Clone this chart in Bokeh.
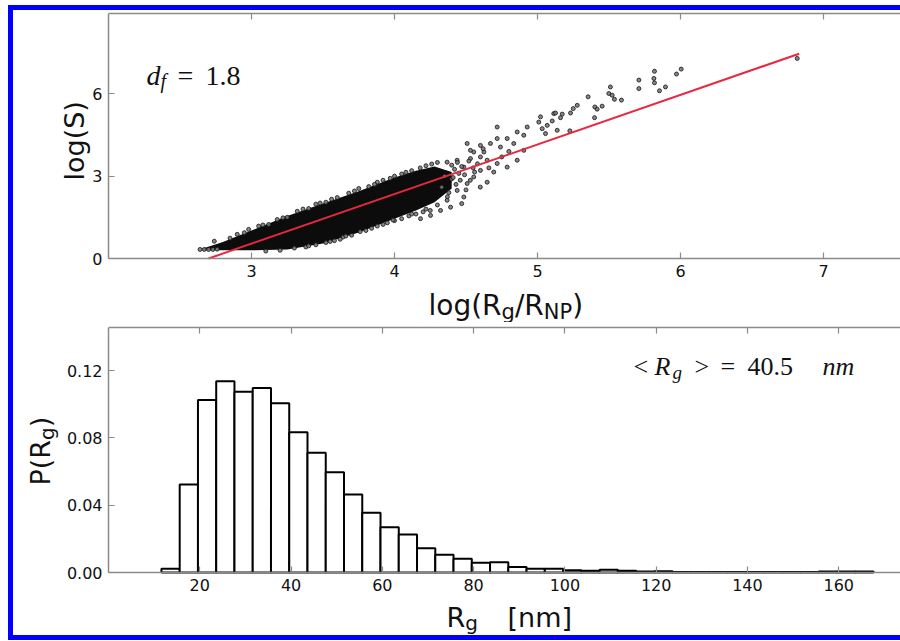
import math
from bokeh.plotting import figure
from bokeh.models import (Range1d, FixedTicker, LinearAxis, Label, NumeralTickFormatter,
                          CustomJSTickFormatter)
from bokeh.layouts import column
from bokeh.embed import file_html
from bokeh.resources import INLINE

# ---------------- data ----------------
# dense core of the log(S) vs log(Rg/RNP) cloud: lower / upper envelope
band_x = [2.66, 2.80, 3.00, 3.25, 3.50, 3.75, 4.00, 4.15, 4.28, 4.40]
band_lo = [0.30, 0.30, 0.30, 0.33, 0.55, 0.95, 1.45, 1.75, 2.05, 2.55]
band_hi = [0.36, 0.60, 1.02, 1.55, 2.00, 2.45, 2.95, 3.20, 3.35, 3.15]

# individual clusters (edges of the cloud and sparse tail)
scatter_x = [2.64, 2.67, 2.70, 2.73, 2.76, 2.74,
             2.90, 3.05, 3.18, 3.32, 3.45, 3.60, 3.68, 3.82, 3.92, 4.05, 4.12, 4.22, 4.30,
             3.10, 3.30, 3.45, 3.58, 3.70, 3.80, 3.95, 4.05, 4.15, 4.25, 4.30,
             2.85, 2.95, 3.12, 3.25, 3.40, 3.52, 3.75, 3.88, 4.00, 4.18,
             3.20, 3.38, 3.52, 3.64, 3.76, 3.88, 4.00, 4.10, 4.20,
             2.98, 3.08, 3.22, 3.36, 3.48, 3.56, 3.72, 3.86, 3.97, 4.08, 4.26,
             3.40, 3.55, 3.66, 3.84, 3.92, 4.12, 4.22, 3.62, 3.99,
             4.182, 4.252, 4.322, 4.392, 4.368, 4.485, 4.438, 4.508, 4.648, 4.554, 4.694,
             4.601, 4.788, 4.485, 4.368, 4.438, 4.648, 4.858, 4.531, 4.601, 4.718, 4.554,
             4.625, 4.531, 4.904, 4.741, 4.601, 4.508, 4.671, 4.834, 4.718, 4.788, 4.904,
             5.056, 4.858, 4.928, 4.718, 5.068, 5.009, 5.021, 5.114,
             4.40, 4.45, 4.50, 4.55, 4.60, 4.42, 4.35, 4.47, 4.58, 4.66, 4.75, 4.80, 4.62, 4.52,
             4.38, 4.43, 4.40, 4.46, 4.33, 4.37, 4.49, 4.44, 4.41, 4.47, 4.53, 4.56,
             5.033, 5.138, 5.226, 5.103, 5.161, 5.126, 5.173, 5.231, 5.250, 5.278, 5.399,
             5.354, 5.401, 5.417, 5.452, 5.510, 5.499, 5.522, 5.538, 5.587, 5.709, 5.709,
             5.818, 5.814, 5.818, 5.895, 5.853, 5.972, 6.005, 6.816]
scatter_y = [0.33, 0.33, 0.33, 0.33, 0.34, 0.63,
             0.88, 1.18, 1.42, 1.72, 1.98, 2.22, 2.38, 2.62, 2.85, 3.08, 3.20, 3.38, 3.50,
             0.27, 0.38, 0.50, 0.65, 0.85, 1.02, 1.30, 1.45, 1.62, 1.75, 1.95,
             0.74, 0.94, 1.24, 1.50, 1.82, 2.05, 2.55, 2.78, 3.00, 3.30,
             0.30, 0.42, 0.58, 0.78, 0.98, 1.18, 1.38, 1.55, 1.70,
             1.06, 1.22, 1.48, 1.80, 2.02, 2.16, 2.46, 2.70, 2.92, 3.14, 3.44,
             0.46, 0.62, 0.82, 1.10, 1.24, 1.62, 1.80, 0.70, 1.40,
             1.45, 1.57, 1.75, 1.87, 2.12, 2.24, 2.48, 2.73, 2.78, 2.97, 3.15,
             3.21, 3.33, 3.33, 3.51, 3.58, 3.58, 3.58, 3.64, 3.70, 3.46, 3.88,
             3.88, 3.94, 3.94, 4.06, 4.12, 4.19, 4.19, 4.19, 4.37, 4.37, 4.49,
             4.55, 4.61, 4.79, 4.79, 4.85, 4.97, 5.16, 5.28,
             2.90, 3.10, 2.50, 3.30, 2.60, 3.25, 3.00, 2.00, 3.45, 3.30, 3.70, 3.90, 4.00, 3.55,
             2.40, 2.70, 3.40, 2.85, 2.60, 2.25, 3.05, 3.50, 2.95, 3.35, 2.85, 3.15,
             4.73, 4.67, 4.65, 5.01, 5.13, 5.30, 5.26, 5.30, 5.46, 5.58, 5.13,
             5.89, 5.52, 5.44, 5.55, 6.25, 6.01, 5.95, 5.80, 5.77, 6.50, 6.19,
             6.82, 6.56, 6.40, 6.25, 6.11, 6.72, 6.90, 7.29]

# fitted line, d_f = 1.8
fit_x = [2.70, 6.83]
fit_y = [0.00, 7.46]

x_ticks_top = [3, 4, 5, 6, 7]
y_ticks_top = [0, 3, 6]

# histogram of Rg
bin_edges = [11.6, 15.6, 19.6, 23.6, 27.6, 31.6, 35.6, 39.6, 43.6, 47.6,
             51.6, 55.6, 59.6, 63.6, 67.6, 71.6, 75.6, 79.6, 83.6, 87.6,
             91.6, 95.6, 99.6, 103.6, 107.6, 111.6, 115.6, 119.6, 123.6, 127.6,
             131.6, 135.6, 139.6, 143.6, 147.6, 151.6, 155.6, 159.6, 163.6, 167.6]
hist_p = [0.0022, 0.0523, 0.1026, 0.1137, 0.1075, 0.1097, 0.1006, 0.0834, 0.0711, 0.0596,
          0.0464, 0.0355, 0.0269, 0.0226, 0.0144, 0.0105, 0.0081, 0.0058, 0.0061, 0.0032,
          0.0022, 0.0022, 0.0014, 0.0010, 0.0016, 0.0010, 0.0006, 0.0008, 0.0003, 0.0003,
          0.0003, 0.0003, 0.0003, 0.0003, 0.0003, 0.0003, 0.0006, 0.0006, 0.0006]

x_ticks_bot = [20, 40, 60, 80, 100, 120, 140, 160]
y_ticks_bot = [0.0, 0.04, 0.08, 0.12]

# ---------------- styling helpers ----------------
SANS = "DejaVu Sans"
SERIF = "Liberation Serif"
AX_COL = "#8a8a8a"
TXT = "#111111"

# font advance widths (em) of DejaVu Sans, for composing labels with subscripts
W = {"l": .278, "o": .612, "g": .635, "(": .390, ")": .390, "R": .695, "/": .337,
     "N": .748, "P": .603, "S": .635, "[": .390, "]": .390, "n": .634, "m": .974, " ": .318}


def tw(s, size):
    return sum(W[c] for c in s) * size


def style(p, xt, yt, xb, yb, x_at, y_at):
    p.xgrid.visible = False
    p.ygrid.visible = False
    p.outline_line_color = None
    p.background_fill_color = "white"
    p.border_fill_color = "white"
    p.xaxis.ticker = FixedTicker(ticks=xt)
    p.yaxis.ticker = FixedTicker(ticks=yt)
    p.xaxis.fixed_location = x_at
    p.yaxis.fixed_location = y_at
    p.xaxis.bounds = xb
    p.yaxis.bounds = yb
    for ax in (p.xaxis[0], p.yaxis[0]):
        ax.axis_line_color = AX_COL
        ax.axis_line_width = 1.5
        ax.major_tick_in = 6
        ax.major_tick_out = 0
        ax.minor_tick_in = 0
        ax.minor_tick_out = 0
        ax.major_tick_line_color = AX_COL
        ax.major_tick_line_width = 1.2
        ax.major_label_text_font = SANS
        ax.major_label_text_font_size = "16px"
        ax.major_label_text_color = TXT
        ax.major_label_standoff = 6
    top = LinearAxis(ticker=FixedTicker(ticks=xt), bounds=xb, axis_line_color=AX_COL,
                     axis_line_width=1.5, major_tick_in=6, major_tick_out=0,
                     minor_tick_in=0, minor_tick_out=0,
                     major_tick_line_color=AX_COL, major_tick_line_width=1.2,
                     formatter=CustomJSTickFormatter(code="return ''"),
                     major_label_standoff=0)
    p.add_layout(top, "above")


def put(p, text, x, y, size, font=SANS, style_="normal", angle=0.0):
    p.add_layout(Label(x=x, y=y, text=text, text_font=font, text_font_size=f"{size}px",
                       text_font_style=style_, text_color=TXT, text_align="left",
                       text_baseline="alphabetic", angle=angle))


# page pixel -> data conversions (used only to place the text annotations)
def d1(px, py):
    return 2.0 + (px - 108) / 143.0, (258 - py) / 27.45


def d2(px, py):
    return (px - 108) / 4.564, (572 - py) / 1682.5


# ---------------- top panel ----------------
x1a, _ = d1(13, 0)
x1b, _ = d1(900, 0)
_, y1a = d1(0, 322)
_, y1b = d1(0, 13)
p1 = figure(width=887, height=312, output_backend="svg", toolbar_location=None,
            x_range=Range1d(x1a, x1b), y_range=Range1d(y1a, y1b),
            min_border_left=0, min_border_right=0, min_border_top=3, min_border_bottom=0)
style(p1, x_ticks_top, y_ticks_top, (2.0, x1b), (0.0, y1b), 0.0, 2.0)

p1.varea(x=band_x, y1=band_lo, y2=band_hi, fill_color="#0c0c0c")
p1.scatter(scatter_x, scatter_y, size=4, marker="circle", fill_color="#7a7a7a",
           line_color="#111111", line_width=0.8, fill_alpha=0.9)
p1.line(fit_x, fit_y, line_color="#e8283f", line_width=2)

# y label: log(S), rotated
put(p1, "log(S)", *d1(74, 180), 27, angle=math.pi / 2)

# x label: log(R_g/R_NP)
x0, base = 428, 305
for txt, size, dy in [("log(R", 28, 0), ("g", 21, 6), ("/R", 28, 0), ("NP", 21, 6), (")", 28, 0)]:
    put(p1, txt, *d1(x0, base + dy), size)
    x0 += tw(txt, size)

# d_f = 1.8
put(p1, "d", *d1(146, 75), 28, SERIF, "italic")
put(p1, "f", *d1(160, 80), 20, SERIF, "italic")
put(p1, "=", *d1(177, 75), 28, SERIF)
put(p1, "1.8", *d1(205, 75), 28, SERIF)

# ---------------- bottom panel ----------------
x2a, _ = d2(13, 0)
x2b, _ = d2(900, 0)
_, y2a = d2(0, 635)
_, y2b = d2(0, 327)
p2 = figure(width=887, height=313, output_backend="svg", toolbar_location=None,
            x_range=Range1d(x2a, x2b), y_range=Range1d(y2a, y2b),
            min_border_left=0, min_border_right=0, min_border_top=5, min_border_bottom=0)
style(p2, x_ticks_bot, y_ticks_bot, (0.0, x2b), (0.0, y2b), 0.0, 0.0)
p2.yaxis.formatter = NumeralTickFormatter(format="0.00")

p2.quad(left=bin_edges[:-1], right=bin_edges[1:], bottom=0, top=hist_p,
        fill_color="white", line_color="black", line_width=2)

# x label: R_g  [nm]
put(p2, "R", *d2(446, 617), 27)
put(p2, "g", *d2(446 + tw("R", 27), 622), 20)
put(p2, "[nm]", *d2(507, 617), 27)

# y label: P(R_g), rotated
ang = math.pi / 2
y0 = 485
for txt, size, dx in [("P(R", 27, 0), ("g", 20, 6), (")", 27, 0)]:
    put(p2, txt, *d2(40 + dx, y0), size, angle=ang)
    y0 -= tw(txt, size)

# <R_g> = 40.5 nm
put(p2, "<", *d2(633, 366), 26, SERIF)
put(p2, "R", *d2(654, 366), 26, SERIF, "italic")
put(p2, "g", *d2(672, 372), 19, SERIF, "italic")
put(p2, ">", *d2(694, 366), 26, SERIF)
put(p2, "=", *d2(720, 366), 26, SERIF)
put(p2, "40.5", *d2(747, 366), 26, SERIF)
put(p2, "nm", *d2(822, 366), 26, SERIF, "italic")

layout = column(p1, p2, styles={"margin-left": "8px", "margin-top": "5px",
                                "border-left": "5px solid #0000ff",
                                "border-top": "5px solid #0000ff",
                                "border-bottom": "5px solid #0000ff"})

open("out.html", "w").write(file_html(layout, INLINE))
